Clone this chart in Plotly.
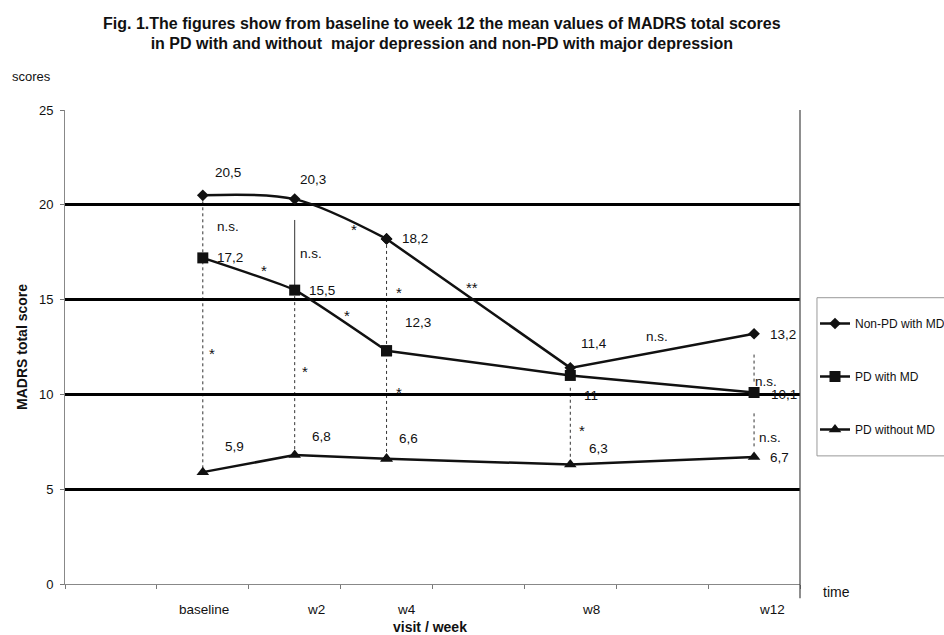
import plotly.graph_objects as go

# visit weeks and group means of the MADRS total score
weeks = [0, 2, 4, 8, 12]
week_labels = ["baseline", "w2", "w4", "w8", "w12"]
non_pd_md = [20.5, 20.3, 18.2, 11.4, 13.2]
pd_md = [17.2, 15.5, 12.3, 11.0, 10.1]
pd_no_md = [5.9, 6.8, 6.6, 6.3, 6.7]
y_ticks = [0, 5, 10, 15, 20, 25]

FONT = "Liberation Sans, Arial, sans-serif"
INK = "#111111"
LBL = 13.5

fig = go.Figure()

# (name, values, symbol, size, smoothing of the first three visits)
series = [
    ("Non-PD with MD", non_pd_md, "diamond", 9, 0.9),
    ("PD with MD", pd_md, "square", 11, 0.4),
    ("PD without MD", pd_no_md, "triangle-up", 11, 0.0),
]
for name, vals, sym, size, smooth in series:
    mk = dict(symbol=sym, size=size, color=INK)
    # early visits drawn smoothed, later visits joined by straight segments
    fig.add_trace(go.Scatter(
        x=weeks[:3], y=vals[:3], name=name, legendgroup=name,
        mode="lines+markers",
        line=dict(color=INK, width=2.5,
                  shape="spline" if smooth > 0 else "linear",
                  smoothing=smooth if smooth > 0 else None),
        marker=mk,
    ))
    fig.add_trace(go.Scatter(
        x=weeks[2:], y=vals[2:], name=name, legendgroup=name, showlegend=False,
        mode="lines+markers", line=dict(color=INK, width=2.5), marker=mk,
    ))

# value labels: pixel offsets from each point
label_offsets = {
    "Non-PD with MD": [(25, 23), (18, 20), (28, 0), (24, 24), (29, -1)],
    "PD with MD": [(27, 0), (27, 0), (31, 28), (21, -20), (30, -2)],
    "PD without MD": [(32, 26), (27, 19), (22, 20), (28, 16), (25, -1)],
}
annotations = []
for name, vals, *_ in series:
    for wk, v, (dx, dy) in zip(weeks, vals, label_offsets[name]):
        annotations.append(dict(
            x=wk, y=v, xref="x", yref="y", text=f"{v:g}".replace(".", ","),
            showarrow=False, xshift=dx, yshift=dy,
            font=dict(family=FONT, size=LBL, color=INK),
        ))

# significance markers between groups
sig_marks = [
    ("n.s.", 0.55, 18.85), ("n.s.", 2.36, 17.42), ("*", 1.33, 16.55),
    ("*", 3.29, 18.7), ("*", 4.27, 15.4), ("*", 3.14, 14.15),
    ("*", 0.20, 12.15), ("*", 2.22, 11.2), ("*", 4.27, 10.1),
    ("**", 5.86, 15.65), ("n.s.", 9.89, 13.04), ("n.s.", 12.26, 10.67),
    ("*", 8.25, 8.1), ("n.s.", 12.35, 7.71),
]
for txt, sx, sy in sig_marks:
    annotations.append(dict(
        x=sx, y=sy, xref="x", yref="y", text=txt, showarrow=False,
        font=dict(family=FONT, size=15 if "*" in txt else LBL, color=INK),
    ))

# visit labels under the axis
label_shift = [1, 21, 20, 21, 18]
for wk, lab, sh in zip(weeks, week_labels, label_shift):
    annotations.append(dict(
        x=wk, y=-0.0528, xref="x", yref="paper", yanchor="middle", text=lab,
        showarrow=False, xshift=sh, font=dict(family=FONT, size=LBL, color=INK),
    ))

annotations += [
    dict(x=-0.0585, y=0.5, xref="paper", yref="paper", xanchor="center", yanchor="middle",
         text="<b>MADRS total score</b>", textangle=-90, showarrow=False,
         font=dict(family=FONT, size=14, color=INK)),
    dict(x=-0.045, y=1.0707, xref="paper", yref="paper", xanchor="center", yanchor="middle",
         text="scores", showarrow=False, font=dict(family=FONT, size=13, color=INK)),
    dict(x=1.0286, y=-0.017, xref="paper", yref="paper", xanchor="left", yanchor="middle",
         text="time", showarrow=False, font=dict(family=FONT, size=14, color=INK)),
    dict(x=0.4966, y=-0.0908, xref="paper", yref="paper", xanchor="center", yanchor="middle",
         text="<b>visit / week</b>", showarrow=False,
         font=dict(family=FONT, size=14, color=INK)),
]

# vertical connectors at each visit
shapes = []
def vseg(x, y0, y1, dash):
    shapes.append(dict(type="line", xref="x", yref="y", x0=x, x1=x, y0=y0, y1=y1,
                       line=dict(color="#333333", width=1, dash=dash), layer="below"))

vseg(weeks[0], non_pd_md[0], pd_no_md[0], "dot")
vseg(weeks[1], 19.2, pd_md[1], "solid")
vseg(weeks[1], pd_md[1], pd_no_md[1], "dot")
vseg(weeks[2], non_pd_md[2], pd_no_md[2], "dot")
vseg(weeks[3], 10.35, 6.7, "dot")
vseg(weeks[4], 12.1, 10.6, "dot")
vseg(weeks[4], 9.0, 7.2, "dot")

# right-hand frame line, running just past the time axis
shapes.append(dict(type="line", xref="paper", yref="paper", x0=1, x1=1, y0=-0.03, y1=1,
                   line=dict(color="#444444", width=1.2)))

# legend frame, running off the right edge of the figure
shapes.append(dict(type="rect", xref="paper", yref="paper",
                   x0=1.0231, x1=1.21, y0=0.2703, y1=0.604,
                   line=dict(color="#999999", width=1), fillcolor="rgba(0,0,0,0)"))

fig.update_layout(
    width=944, height=635,
    margin=dict(l=65, r=144, t=110, b=51),
    paper_bgcolor="white", plot_bgcolor="white",
    font=dict(family=FONT, size=12, color=INK),
    title=dict(
        text="<b>Fig. 1.The figures show from baseline to week 12 the mean values of MADRS total scores"
             "<br>in PD with and without  major depression and non-PD with major depression</b>",
        x=0.468, xanchor="center", xref="container", y=0.955, yanchor="top",
        font=dict(family=FONT, size=16, color=INK),
    ),
    xaxis=dict(
        range=[-3, 13], tickvals=list(range(-3, 14, 2)), ticktext=[""] * 9,
        showgrid=False, zeroline=False, showline=True, linecolor="#888888", linewidth=1,
        ticks="outside", ticklen=4, tickcolor="#777777",
    ),
    yaxis=dict(
        range=[0, 25], tickvals=y_ticks, showgrid=True, gridcolor="black", gridwidth=3,
        zeroline=False, showline=True, linecolor="#888888", linewidth=1,
        ticks="outside", ticklen=4, tickcolor="#777777", ticklabelstandoff=4,
        tickfont=dict(family=FONT, size=13, color=INK),
    ),
    legend=dict(
        xref="container", yref="container",
        x=815 / 944, y=1 - 309 / 635, xanchor="left", yanchor="top",
        borderwidth=0, bgcolor="rgba(0,0,0,0)",
        font=dict(family=FONT, size=12, color=INK), tracegroupgap=34,
    ),
    annotations=annotations, shapes=shapes,
)

fig.write_html("out.html")
